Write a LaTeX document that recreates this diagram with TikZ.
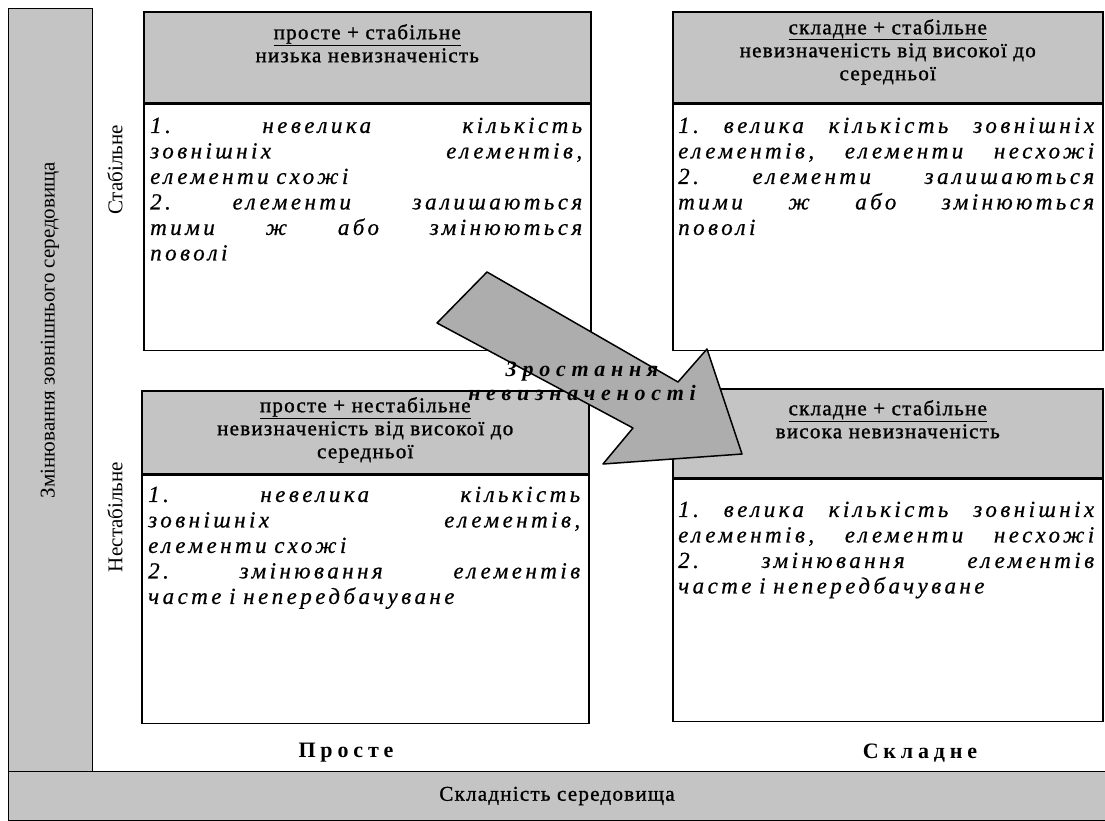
\documentclass[tikz,border=0pt]{standalone}
\usepackage{fontspec}
\setmainfont{Liberation Serif}
\newfontfamily\hdfont[LetterSpace=6,FakeBold=1.2]{Liberation Serif}
\newfontfamily\bdfont[LetterSpace=15,FakeBold=0.6]{Liberation Serif}
\newfontfamily\arfont[LetterSpace=26]{Liberation Serif}
\newfontfamily\lbfont[LetterSpace=22]{Liberation Serif}
\usepackage{tikz}
\usepackage{tkz-euclide}
\usetikzlibrary{positioning}
\definecolor{hdgrey}{gray}{0.77}
\definecolor{argrey}{gray}{0.68}
\newcommand{\jl}[1]{\makebox[\hsize][s]{#1}}

\tikzset{
  bar/.style={draw, line width=1pt, fill=hdgrey, anchor=north west, inner sep=0pt},
  hdr/.style={draw, line width=1.5pt, fill=hdgrey, anchor=north west, inner sep=0pt},
  box/.style={draw, line width=1.5pt, fill=white, anchor=north west, inner sep=0pt},
  htxt/.style={inner sep=0pt, align=center, font=\hdfont\fontsize{21}{23}\selectfont},
  btxt/.style={inner sep=0pt, anchor=north west, text width=#1, align=left,
    font=\bdfont\itshape\fontsize{23}{25.5}\selectfont},
  side/.style={rotate=90, inner sep=0pt, font=\fontsize{21}{24}\selectfont},
  lab/.style={inner sep=0pt, font=\lbfont\bfseries\fontsize{22}{24}\selectfont},
}

\begin{document}
\begin{tikzpicture}[x=1pt,y=-1pt]
\useasboundingbox (0,0) rectangle (1105,820);

  % bars
  \node[bar, minimum width=84pt, minimum height=763pt] (L) at (8,8) {};
  \node[bar, minimum width=1097pt, minimum height=49pt] (D) at (8,771) {};
  \node[side] (tL) at (50,330) {Змінювання зовнішнього середовища};
  \node[htxt] (tD) at (D.center) {Складність середовища};
  \node[side] (sA) at (115,170) {Стабільне};
  \node[side] (sB) at (115,517) {Нестабільне};

  % simple + stable
  \node[hdr, minimum width=447pt, minimum height=91pt] (hA) at (143,11) {};
  \node[box, minimum width=447pt, minimum height=246pt] (bA) at (hA.south west) {};
  \node[htxt, below=13pt of hA.north] (tA) {\underline{просте + стабільне}\\низька невизначеність};
  \node[btxt=432pt, below right=14pt and 7pt of bA.north west] (xA)
    {\jl{1.\hfill невелика\hfill кількість}\\
     \jl{зовнішніх\hfill елементів,}\\
     елементи\ схожі\\
     \jl{2.\hfill елементи\hfill залишаються}\\
     \jl{тими\hfill ж\hfill або\hfill змінюються}\\
     поволі};

  % complex + stable
  \node[hdr, minimum width=430pt, minimum height=91pt] (hB) at (672,11) {};
  \node[box, minimum width=430pt, minimum height=246pt] (bB) at (hB.south west) {};
  \node[htxt, below=8pt of hB.north] (tB) {\underline{складне + стабільне}\\невизначеність від високої до\\середньої};
  \node[btxt=416pt, below right=14pt and 6pt of bB.north west] (xB)
    {\jl{1.\hfill велика\hfill кількість\hfill зовнішніх}\\
     \jl{елементів,\hfill елементи\hfill несхожі}\\
     \jl{2.\hfill елементи\hfill залишаються}\\
     \jl{тими\hfill ж\hfill або\hfill змінюються}\\
     поволі};

  % simple + unstable
  \node[hdr, minimum width=447pt, minimum height=83pt] (hC) at (141,390) {};
  \node[box, minimum width=447pt, minimum height=248pt] (bC) at (hC.south west) {};
  \node[htxt, below=7pt of hC.north] (tC) {\underline{просте + нестабільне}\\невизначеність від високої до\\середньої};
  \node[btxt=432pt, below right=12pt and 7pt of bC.north west] (xC)
    {\jl{1.\hfill невелика\hfill кількість}\\
     \jl{зовнішніх\hfill елементів,}\\
     елементи\ схожі\\
     \jl{2.\hfill змінювання\hfill елементів}\\
     часте\ і\ непередбачуване};

  % complex + unstable
  \node[hdr, minimum width=430pt, minimum height=89pt] (hD) at (672,388) {};
  \node[box, minimum width=430pt, minimum height=242pt] (bD) at (hD.south west) {};
  \node[htxt, below=12pt of hD.north] (tD2) {\underline{складне + стабільне}\\висока невизначеність};
  \node[btxt=416pt, below right=23pt and 6pt of bD.north west] (xD)
    {\jl{1.\hfill велика\hfill кількість\hfill зовнішніх}\\
     \jl{елементів,\hfill елементи\hfill несхожі}\\
     \jl{2.\hfill змінювання\hfill елементів}\\
     часте\ і\ непередбачуване};

  % arrow
  \tkzDefPoint(487,272){A} \tkzDefPoint(678,382){B}
  \tkzDefPoint(707,349){C} \tkzDefPoint(742,454){T}
  \tkzDefPoint(603,464){E} \tkzDefPoint(633,428){F}
  \tkzDefPoint(437,323){G}
  \tkzDrawPolygon[fill=argrey, draw=black, line width=1.5pt](A,B,C,T,E,F,G)
  \node[font=\arfont\bfseries\itshape\fontsize{22}{24}\selectfont, align=center, inner sep=0pt] (tR)
    at (582,381) {Зростання\\невизначеності};

  \node[lab] (pA) at (346,753) {Просте};
  \node[lab] (pB) at (920,753) {Складне};

\end{tikzpicture}
\end{document}
